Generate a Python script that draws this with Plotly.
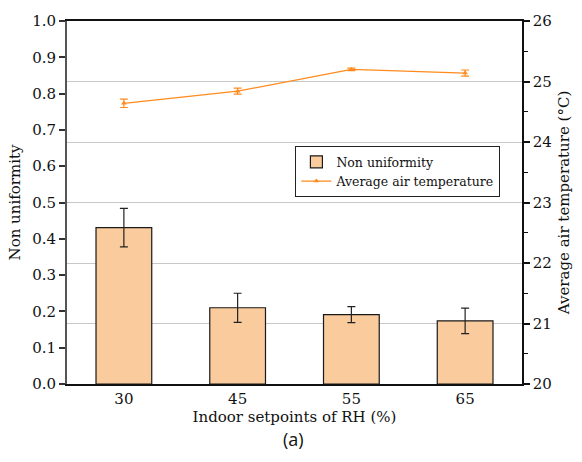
import plotly.graph_objects as go

categories = ["30", "45", "55", "65"]
non_uniformity = [0.431, 0.210, 0.191, 0.174]
non_uniformity_err = [0.053, 0.040, 0.022, 0.035]
avg_temp = [24.64, 24.84, 25.20, 25.14]
avg_temp_err = [0.07, 0.05, 0.02, 0.05]

serif = "DejaVu Serif"
orange = "#FF8A1E"

fig = go.Figure()
fig.add_trace(go.Bar(
    x=categories, y=non_uniformity, name="Non uniformity",
    marker=dict(color="#F9CB9D", line=dict(color="#1a1a1a", width=1.2)),
    width=0.49,
    error_y=dict(type="data", array=non_uniformity_err, color="#222222", thickness=1.2, width=4),
    yaxis="y",
))
fig.add_trace(go.Scatter(
    x=categories, y=avg_temp, name="Average air temperature",
    mode="lines+markers",
    line=dict(color=orange, width=1.3),
    marker=dict(symbol="triangle-up", size=5, color=orange),
    error_y=dict(type="data", array=avg_temp_err, color=orange, thickness=1.2, width=4),
    yaxis="y2",
))

fig.update_layout(
    width=582, height=462,
    margin=dict(l=67, r=57, t=15, b=78),
    paper_bgcolor="white", plot_bgcolor="white",
    font=dict(family=serif, size=15, color="#111111"),
    showlegend=True,
    legend=dict(
        x=0.502, y=0.655, xanchor="left", yanchor="top",
        bgcolor="white", bordercolor="#222222", borderwidth=1,
        font=dict(family=serif, size=12.5),
        tracegroupgap=0, itemwidth=30,
    ),
    xaxis=dict(
        type="category", range=[-0.5, 3.5],
        showline=True, linecolor="#111111", linewidth=1.5, mirror=True,
        ticks="", showgrid=False,
        title=dict(text="Indoor setpoints of RH (%)", font=dict(family=serif, size=15), standoff=0),
        tickfont=dict(family=serif, size=15),
    ),
    yaxis=dict(
        range=[0, 1.0], dtick=0.1, tickformat=".1f",
        showline=True, linecolor="#555555", linewidth=2,
        ticks="outside", ticklen=6, tickcolor="#333333", tickwidth=1.5,
        showgrid=False, zeroline=False,
        title=dict(text="Non uniformity", font=dict(family=serif, size=15), standoff=8),
        tickfont=dict(family=serif, size=15),
    ),
    yaxis2=dict(
        range=[20, 26], dtick=1, overlaying="y", side="right",
        showline=True, linecolor="#111111", linewidth=1.5,
        ticks="outside", ticklen=6, tickcolor="#111111", tickwidth=1.5,
        minor=dict(dtick=0.5, ticks="outside", ticklen=4, tickcolor="#111111", tickwidth=1.2, showgrid=False),
        showgrid=True, gridcolor="#C8C8C8", gridwidth=1.2, zeroline=False,
        title=dict(text="Average air temperature (°C)", font=dict(family=serif, size=15), standoff=8),
        tickfont=dict(family=serif, size=15),
    ),
    annotations=[dict(
        text="(a)", x=0.498, y=-0.152, xref="paper", yref="paper",
        xanchor="center", yanchor="middle", showarrow=False,
        font=dict(family="Open Sans", size=18, color="#111111"),
    )],
)

fig.write_html("out.html")
